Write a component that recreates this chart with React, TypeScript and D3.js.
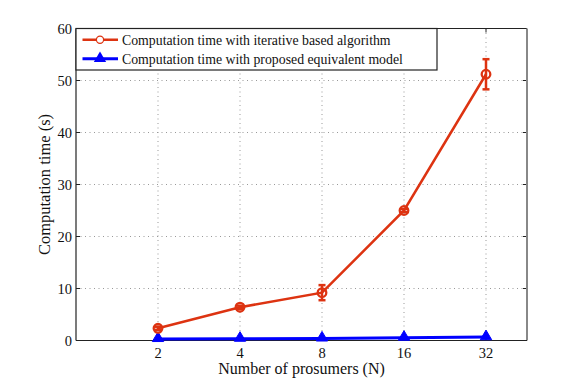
import React from "react";
import * as d3 from "d3";

const categories = [2, 4, 8, 16, 32];
const iterative = [2.35, 6.4, 9.2, 25.0, 51.2];
const iterativeErr = [0.3, 0.3, 1.45, 0.3, 2.9];
const proposed = [0.3, 0.35, 0.4, 0.55, 0.65];
const yTicks = [0, 10, 20, 30, 40, 50, 60];
const legendLabels = [
  "Computation time with iterative based algorithm",
  "Computation time with proposed equivalent model",
];

const W = 581, H = 383;
const L = 76, R = 527, T = 28.5, B = 340.5;
const RED = "#dd3311", BLUE = "#0000ff";
const FONT = "'Liberation Serif', 'DejaVu Serif', serif";

export default function App() {
  const x = d3.scaleLinear().domain([0, 5.5]).range([L, R]);
  const y = d3.scaleLinear().domain([0, 60]).range([B, T]);
  const px = (n: number) => x(Math.log2(n));
  const redLine = d3.line<number>().x((_, i) => px(categories[i])).y((v) => y(v))(iterative) || "";
  const blueLine = d3.line<number>().x((_, i) => px(categories[i])).y((v) => y(v))(proposed) || "";
  const tri = (cx: number, cy: number, s: number) =>
    `M${cx},${cy - s}L${cx + s * 0.95},${cy + s * 0.6}L${cx - s * 0.95},${cy + s * 0.6}Z`;
  return (
    <svg width={W} height={H} style={{ position: "absolute", left: 0, top: 0, background: "#fff" }}>
      <rect width={W} height={H} fill="#fff" />
      {/* grid */}
      {categories.map((c) => (
        <line key={"gx" + c} x1={px(c)} x2={px(c)} y1={T} y2={B} stroke="#999" strokeWidth={1} strokeDasharray="1,3.5" />
      ))}
      {yTicks.slice(1, -1).map((t) => (
        <line key={"gy" + t} x1={L} x2={R} y1={y(t)} y2={y(t)} stroke="#999" strokeWidth={1} strokeDasharray="1,3.5" />
      ))}
      {/* ticks */}
      {yTicks.map((t) => (
        <g key={"ty" + t}>
          <line x1={L} x2={L + 4} y1={y(t)} y2={y(t)} stroke="#222" />
          <line x1={R - 4} x2={R} y1={y(t)} y2={y(t)} stroke="#222" />
          <text x={L - 4} y={y(t) + 5} textAnchor="end" fontFamily={FONT} fontSize={14.5} fill="#111">{t}</text>
        </g>
      ))}
      {categories.map((c) => (
        <g key={"tx" + c}>
          <line x1={px(c)} x2={px(c)} y1={B} y2={B - 4} stroke="#222" />
          <line x1={px(c)} x2={px(c)} y1={T} y2={T + 4} stroke="#222" />
          <text x={px(c)} y={B + 17} textAnchor="middle" fontFamily={FONT} fontSize={14.5} fill="#111">{c}</text>
        </g>
      ))}
      {/* frame */}
      <line x1={L} x2={R} y1={T} y2={T} stroke="#222" strokeWidth={1} />
      <line x1={R} x2={R} y1={T} y2={B} stroke="#888" strokeWidth={2} />
      <line x1={L} x2={R} y1={B} y2={B} stroke="#222" strokeWidth={1.2} />
      <line x1={L} x2={L} y1={T} y2={B} stroke="#222" strokeWidth={1.2} />
      {/* blue series */}
      <path d={blueLine} fill="none" stroke={BLUE} strokeWidth={3} />
      {proposed.map((v, i) => (
        <path key={"b" + i} d={tri(px(categories[i]), y(v) - 1, 6)} fill={BLUE} stroke={BLUE} strokeWidth={1} />
      ))}
      {/* red series */}
      <path d={redLine} fill="none" stroke={RED} strokeWidth={2.5} />
      {iterative.map((v, i) => {
        const cx = px(categories[i]);
        const e = iterativeErr[i];
        return (
          <g key={"r" + i}>
            <line x1={cx} x2={cx} y1={y(v - e)} y2={y(v + e)} stroke={RED} strokeWidth={2.5} />
            <line x1={cx - 3.5} x2={cx + 3.5} y1={y(v - e)} y2={y(v - e)} stroke={RED} strokeWidth={2.5} />
            <line x1={cx - 3.5} x2={cx + 3.5} y1={y(v + e)} y2={y(v + e)} stroke={RED} strokeWidth={2.5} />
            <circle cx={cx} cy={y(v)} r={4.3} fill="none" stroke={RED} strokeWidth={2.3} />
          </g>
        );
      })}
      {/* legend */}
      <rect x={L} y={T} width={437 - L} height={70 - T} fill="#fff" stroke="#222" strokeWidth={1.2} />
      <line x1={82.5} x2={118} y1={39.7} y2={39.7} stroke={RED} strokeWidth={2.5} />
      <circle cx={100} cy={39.7} r={3.6} fill="#fff" stroke={RED} strokeWidth={1.2} />
      <line x1={82.5} x2={118} y1={58.7} y2={58.7} stroke={BLUE} strokeWidth={3} />
      <path d={tri(100, 58, 6.5)} fill={BLUE} />
      {legendLabels.map((s, i) => (
        <text key={s} x={122} y={44.5 + i * 19} fontFamily={FONT} fontSize={13.8} fill="#111">{s}</text>
      ))}
      {/* axis titles */}
      <text x={(L + R) / 2} y={374} textAnchor="middle" fontFamily={FONT} fontSize={16} fill="#111">Number of prosumers (N)</text>
      <text transform={`translate(50,${(T + B) / 2}) rotate(-90)`} textAnchor="middle" fontFamily={FONT} fontSize={16.5} fill="#111">Computation time (s)</text>
    </svg>
  );
}
